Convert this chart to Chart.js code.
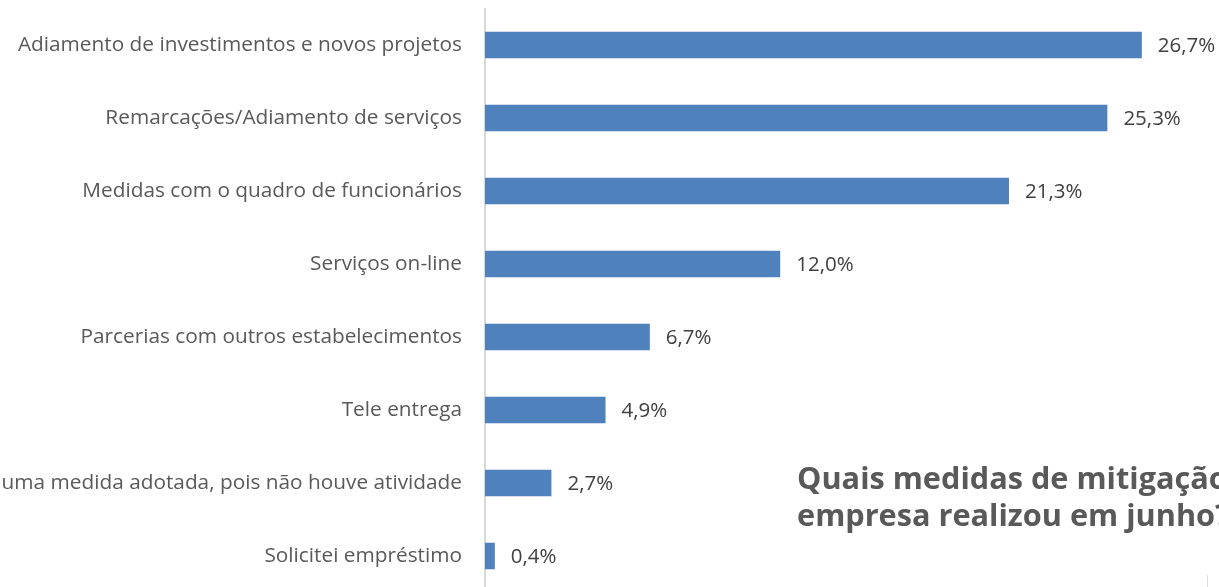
<!DOCTYPE html>
<html lang="pt-BR">
<head>
<meta charset="utf-8">
<script src="https://cdn.jsdelivr.net/npm/chart.js@4.4.1/dist/chart.umd.min.js"></script>
<style>
  html, body { margin: 0; padding: 0; background: #fff; overflow: hidden; }
  #grafico { display: block; }
</style>
</head>
<body>
<canvas id="grafico" width="1219" height="600"></canvas>
<script>
// medidas de mitigação adotadas (% das empresas)
var categorias = [
  'Adiamento de investimentos e novos projetos',
  'Remarcações/Adiamento de serviços',
  'Medidas com o quadro de funcionários',
  'Serviços on-line',
  'Parcerias com outros estabelecimentos',
  'Tele entrega',
  'Nenhuma medida adotada, pois não houve atividade',
  'Solicitei empréstimo'
];
var percentuais = [26.7, 25.3, 21.3, 12.0, 6.7, 4.9, 2.7, 0.4];
var tituloLinhas = ['Quais medidas de mitigação a', 'empresa realizou em junho?'];

var FONTE = 'Open Sans, sans-serif';

// rótulo de valor ao fim de cada barra, com vírgula decimal
var rotulosValor = {
  id: 'rotulosValor',
  afterDatasetsDraw: function(chart) {
    var ctx = chart.ctx;
    var meta = chart.getDatasetMeta(0);
    ctx.save();
    ctx.font = '20.5px ' + FONTE;
    ctx.fillStyle = '#404040';
    ctx.textAlign = 'left';
    ctx.textBaseline = 'middle';
    meta.data.forEach(function(bar, i) {
      var txt = percentuais[i].toFixed(1).replace('.', ',') + '%';
      ctx.fillText(txt, bar.x + 16, bar.y + 1);
    });
    ctx.restore();
  }
};

// título em negrito no canto inferior direito
var tituloCanto = {
  id: 'tituloCanto',
  afterDraw: function(chart) {
    var ctx = chart.ctx;
    ctx.save();
    ctx.font = 'bold 30.7px ' + FONTE;
    ctx.fillStyle = '#595959';
    ctx.textAlign = 'left';
    ctx.textBaseline = 'alphabetic';
    ctx.fillText(tituloLinhas[0], 797, 489);
    ctx.fillText(tituloLinhas[1], 797, 526);
    // traço da borda do quadro vizinho
    ctx.strokeStyle = '#d9d9d9';
    ctx.lineWidth = 1;
    ctx.beginPath();
    ctx.moveTo(1207.5, 575);
    ctx.lineTo(1207.5, 600);
    ctx.stroke();
    ctx.restore();
  }
};

new Chart(document.getElementById('grafico'), {
  type: 'bar',
  data: {
    labels: categorias,
    datasets: [{
      data: percentuais,
      backgroundColor: '#4f81bd',
      borderWidth: 0,
      barPercentage: 0.9,
      categoryPercentage: 0.4
    }]
  },
  options: {
    indexAxis: 'y',
    responsive: false,
    animation: false,
    layout: { padding: { top: 8.5, bottom: 7.5, left: 0, right: 20.6 } },
    plugins: {
      legend: { display: false },
      tooltip: { enabled: false }
    },
    scales: {
      x: {
        display: false,
        min: 0,
        max: 29
      },
      y: {
        afterFit: function(scale) {
          scale.width = 485;
          scale.paddingTop = 0;
          scale.paddingBottom = 0;
        },
        grid: { display: false },
        border: { display: true, color: '#d9d9d9', width: 2 },
        ticks: {
          padding: 15,
          color: '#595959',
          font: { family: FONTE, size: 20.8 }
        }
      }
    }
  },
  plugins: [rotulosValor, tituloCanto]
});
</script>
</body>
</html>
